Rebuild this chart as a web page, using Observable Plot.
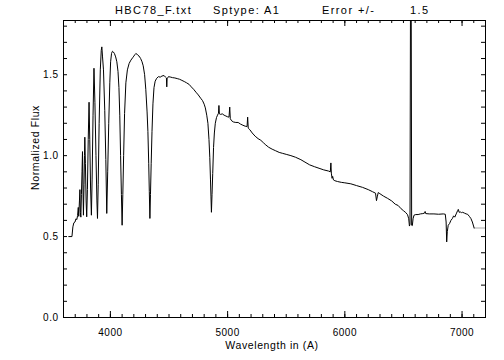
<!DOCTYPE html>
<html><head><meta charset="utf-8">
<script src="https://cdn.jsdelivr.net/npm/d3@7"></script>
<script src="https://cdn.jsdelivr.net/npm/@observablehq/plot@0.6"></script>
<style>
html,body{margin:0;padding:0;background:#fff;}
#wrap{position:relative;width:504px;height:360px;}
#title span{position:absolute;top:3px;font:11px "Liberation Sans",Arial,sans-serif;letter-spacing:1.4px;color:#000;white-space:pre;line-height:14px}
</style></head><body>
<div id="wrap"><div id="title"></div></div>
<script>
// ---- data ----
const titleParts = ["HBC78_F.txt", "Sptype: A1", "Error +/-", "1.5"];
const xLabel = "Wavelength in (A)";
const yLabel = "Normalized Flux";
const xMajorTicks = [4000, 5000, 6000, 7000];
const xMinorTicks = d3.range(3600, 7201, 100);
const yMajorTicks = [0.0, 0.5, 1.0, 1.5];
const yMinorTicks = d3.range(0, 1.81, 0.1);

const wavelength = [
3645,3672,3680,3688,3698,3706,3714,3720,3726,3730,3736,3740,3744,3748,3753,3758,3762,3766,3770,3775,
3779,3782,3787,3793,3798,3804,3811,3818,3824,3831,3838,3844,3852,3860,3868,3877,3885,3890,3896,3904,
3914,3922,3927,3933,3941,3952,3961,3969,3977,3986,3995,4002,4010,4018,4026,4035,4045,4055,4065,4073,
4080,4087,4094,4100,4106,4113,4121,4132,4145,4160,4175,4190,4200,4210,4218,4225,4235,4245,4258,4270,
4280,4292,4302,4313,4320,4327,4332,4337,4342,4348,4355,4363,4372,4382,4395,4410,4425,4440,4458,4470,
4478,4481,4484,4495,4510,4530,4550,4570,4590,4610,4630,4650,4672,4690,4710,4730,4750,4770,4786,4800,
4810,4822,4832,4841,4848,4854,4858,4862,4867,4873,4880,4887,4895,4905,4914,4922,4926,4930,4940,4955,
4970,4985,5000,5012,5018,5023,5035,5050,5070,5090,5110,5130,5150,5166,5171,5176,5190,5210,5235,5260,
5283,5305,5326,5350,5380,5410,5440,5470,5500,5540,5580,5625,5660,5700,5740,5780,5820,5860,5876,5881,
5885,5891,5896,5903,5915,5938,5970,6000,6051,6100,6151,6200,6237,6262,6270,6278,6285,6299,6330,6365,
6400,6430,6455,6480,6500,6520,6535,6545,6551,6556,6563,6570,6576,6582,6590,6605,6625,6645,6665,6680,
6685,6690,6720,6760,6800,6840,6857,6864,6869,6874,6882,6893,6905,6918,6928,6938,6950,6962,6968,6975,
6985,6995,7005,7020,7035,7047,7062,7075,7088,7103
];
const flux = [
0.500,0.500,0.560,0.585,0.590,0.610,0.605,0.630,0.680,0.625,0.720,0.790,0.650,0.620,0.760,0.900,1.025,0.800,0.632,0.820,
1.000,1.114,0.950,0.720,0.622,0.790,1.100,1.330,1.100,0.800,0.632,0.850,1.250,1.540,1.330,1.000,0.720,0.612,0.820,1.200,
1.530,1.650,1.672,1.610,1.530,1.280,0.976,0.643,0.900,1.200,1.450,1.580,1.632,1.645,1.640,1.630,1.610,1.580,1.520,1.420,
1.250,1.000,0.760,0.570,0.760,1.000,1.260,1.450,1.530,1.570,1.590,1.605,1.615,1.625,1.632,1.628,1.620,1.615,1.600,1.580,
1.555,1.500,1.410,1.270,1.150,0.950,0.780,0.612,0.760,0.950,1.150,1.320,1.420,1.460,1.478,1.488,1.485,1.492,1.495,1.485,
1.480,1.425,1.475,1.488,1.486,1.482,1.480,1.476,1.472,1.465,1.458,1.450,1.440,1.425,1.410,1.392,1.375,1.355,1.340,1.318,
1.295,1.250,1.200,1.100,0.990,0.850,0.750,0.650,0.760,0.890,1.050,1.140,1.200,1.235,1.250,1.262,1.310,1.258,1.255,1.258,
1.250,1.245,1.240,1.238,1.300,1.228,1.215,1.208,1.205,1.205,1.195,1.188,1.182,1.180,1.238,1.170,1.160,1.140,1.120,1.105,
1.095,1.080,1.066,1.052,1.040,1.030,1.020,1.014,1.008,1.000,0.990,0.975,0.960,0.943,0.932,0.922,0.912,0.905,0.900,0.955,
0.892,0.860,0.872,0.850,0.845,0.840,0.835,0.832,0.826,0.815,0.804,0.790,0.777,0.768,0.722,0.750,0.772,0.765,0.750,0.736,
0.720,0.700,0.692,0.672,0.660,0.648,0.635,0.610,0.565,0.575,3.000,0.570,0.568,0.610,0.632,0.636,0.636,0.640,0.642,0.645,
0.655,0.642,0.640,0.640,0.638,0.640,0.638,0.590,0.467,0.530,0.570,0.580,0.600,0.612,0.628,0.620,0.640,0.660,0.668,0.650,
0.652,0.648,0.650,0.645,0.640,0.638,0.625,0.612,0.590,0.553
];
const tailWavelength = [7103, 7200];
const tailFlux = [0.553, 0.553];

// ---- layout ----
const W = 504, H = 360, mL = 63, mR = 19, mT = 20, mB = 43;
const fw = W - mL - mR, fh = H - mT - mB;
const xDom = [3600, 7200], yDom = [0, 1.835];
const xPer = (xDom[1] - xDom[0]) / fw, yPer = (yDom[1] - yDom[0]) / fh;

const spec = wavelength.map((w, i) => ({w, f: flux[i]}));
const tail = tailWavelength.map((w, i) => ({w, f: tailFlux[i]}));

// tick marks pointing inward on all four sides
const xTickRules = (ticks, len) => [
  Plot.ruleX(ticks, {x: d => d, y1: yDom[0], y2: yDom[0] + len * yPer, stroke: "black"}),
  Plot.ruleX(ticks, {x: d => d, y1: yDom[1] - len * yPer, y2: yDom[1], stroke: "black"})
];
const yTickRules = (ticks, len) => [
  Plot.ruleY(ticks, {y: d => d, x1: xDom[0], x2: xDom[0] + len * xPer, stroke: "black"}),
  Plot.ruleY(ticks, {y: d => d, x1: xDom[1] - len * xPer, x2: xDom[1], stroke: "black"})
];

const plot = Plot.plot({
  width: W, height: H,
  marginLeft: mL, marginRight: mR, marginTop: mT, marginBottom: mB,
  style: {fontFamily: "'Liberation Sans', Arial, sans-serif", fontSize: "10px", color: "black", background: "white", overflow: "visible", letterSpacing: "0.5px"},
  x: {domain: xDom},
  y: {domain: yDom},
  marks: [
    Plot.line(tail, {x: "w", y: "f", stroke: "#aaa", strokeWidth: 1.2}),
    Plot.line(spec, {x: "w", y: "f", stroke: "black", strokeWidth: 1, clip: true}),
    ...xTickRules(xMinorTicks, 3),
    ...xTickRules(xMajorTicks, 6),
    ...yTickRules(yMinorTicks, 4),
    Plot.frame({stroke: "black"}),
    Plot.axisX({ticks: xMajorTicks, tickSize: 0, tickPadding: 11, tickFormat: d => String(d), label: null}),
    Plot.axisY({ticks: yMajorTicks, tickSize: 0, tickPadding: 5, tickFormat: d3.format(".1f"), label: null})
  ]
});

// axis titles
const svg = d3.select(plot);
svg.append("text").text(xLabel)
  .attr("x", 272).attr("y", 345).attr("text-anchor", "middle").attr("dominant-baseline", "central")
  .attr("font-size", 10.5).attr("letter-spacing", "0.6px").attr("fill", "black");
svg.append("text").text(yLabel)
  .attr("transform", "translate(35,147.5) rotate(-90)").attr("text-anchor", "middle").attr("dominant-baseline", "central")
  .attr("font-size", 10.5).attr("letter-spacing", "0.6px").attr("fill", "black");

const wrap = document.getElementById("wrap");
wrap.appendChild(plot);
plot.style.position = "absolute"; plot.style.left = "0"; plot.style.top = "0";
const titleLefts = [115, 213, 322, 410];
const tdiv = document.getElementById("title");
tdiv.style.position = "absolute"; tdiv.style.zIndex = "2"; tdiv.style.left = "0"; tdiv.style.top = "0";
titleParts.forEach((t, i) => {
  const s = document.createElement("span");
  s.textContent = t; s.style.left = titleLefts[i] + "px";
  tdiv.appendChild(s);
});
</script>
</body></html>
